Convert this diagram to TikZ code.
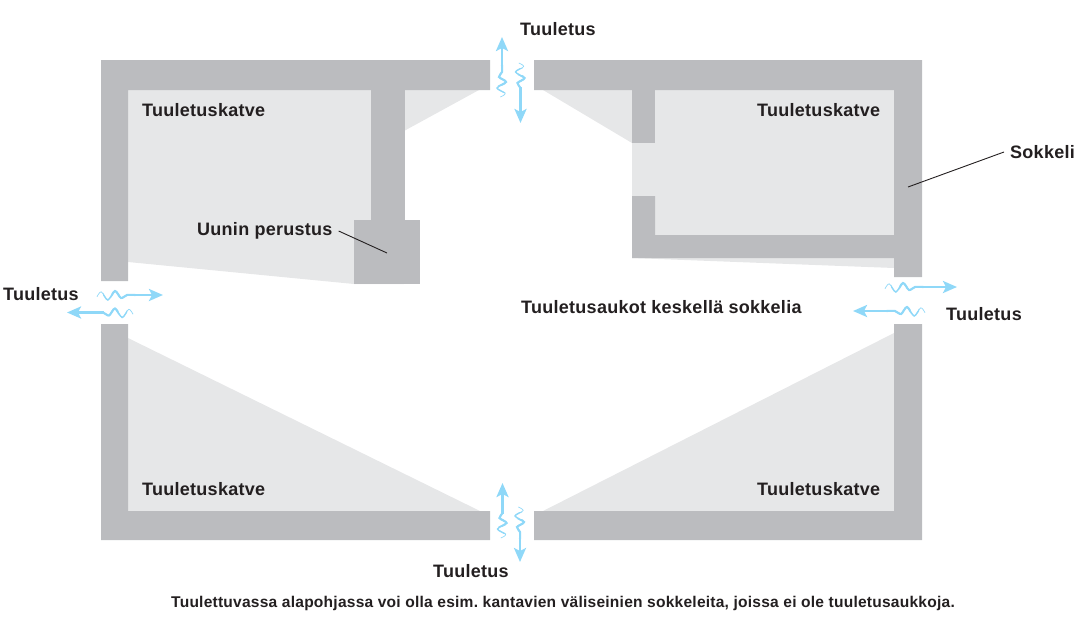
\documentclass[tikz,border=0pt]{standalone}
\usepackage{fontspec}
\setmainfont[LetterSpace=1.5]{Liberation Sans}
\usetikzlibrary{arrows.meta}
\definecolor{sokkeli}{HTML}{BBBCBF}
\definecolor{katve}{HTML}{E6E7E8}
\definecolor{ilma}{HTML}{8FD8F8}
\definecolor{teksti}{HTML}{231F20}
\newcommand{\aalto}{plot[smooth] coordinates {(0,-1.7) (3.5,3.2) (9,-5) (15,4) (20,-3) (25,0) (32,0)}}
\tikzset{
	seina/.style={fill=sokkeli,draw=none},
	varjo/.style={fill=katve,draw=none},
	otsikko/.style={anchor=west,inner sep=0pt,text=teksti,font=\fontsize{18}{20}\bfseries},
	viite/.style={draw=teksti,line width=0.9pt},
	pics/virtaus/.style={code={
		\draw[ilma,line width=0.7pt] \aalto;
		\begin{scope}
			\clip (5,-9) rectangle (40,9);
			\draw[ilma,line width=1.4pt] \aalto;
		\end{scope}
		\begin{scope}
			\clip (12,-9) rectangle (40,9);
			\draw[ilma,line width=2.1pt] \aalto;
		\end{scope}
		\draw[ilma,line width=2.6pt,-{Stealth[length=14pt,width=12pt,inset=3pt]}] (24,0) -- (#1,0);
	}}
}
\begin{document}
\frenchspacing
\begin{tikzpicture}[x=1pt,y=-1pt]
	\useasboundingbox (0,0) rectangle (1078,624);
	% katveet
	\fill[varjo] (128,90) -- (479,90) -- (404,131) -- (404,284) -- (354,284) -- (128,262) -- cycle;
	\fill[varjo] (543,90) -- (632,143) -- (632,196) -- (655,196) -- (655,235) -- (894,235) -- (894,90) -- cycle;
	\fill[varjo] (632,258) -- (894,268) -- (894,258) -- cycle;
	\fill[varjo] (128,338) -- (480,511) -- (128,511) -- cycle;
	\fill[varjo] (543,511) -- (894,333) -- (894,511) -- cycle;
	% sokkelit
	\fill[seina] (101,60) -- (490,60) -- (490,90) -- (128,90) -- (128,281) -- (101,281) -- cycle;
	\fill[seina] (371,90) rectangle (404.5,220);
	\fill[seina] (354,220) rectangle (420,284);
	\fill[seina] (534,60) -- (922,60) -- (922,277) -- (894,277) -- (894,90) -- (534,90) -- cycle;
	\fill[seina] (632,90) rectangle (655,143);
	\fill[seina] (632,196) -- (655,196) -- (655,235) -- (894,235) -- (894,258) -- (632,258) -- cycle;
	\fill[seina] (101,324) -- (128,324) -- (128,511) -- (490,511) -- (490,540) -- (101,540) -- cycle;
	\fill[seina] (534,511) -- (894,511) -- (894,324) -- (922,324) -- (922,540) -- (534,540) -- cycle;
	% tuuletusvirrat
	\pic[rotate=90] at (502,97) {virtaus=60};
	\pic[rotate=-90,yscale=-1] at (520.5,63) {virtaus=60};
	\pic[rotate=90] at (502.5,538) {virtaus=55};
	\pic[rotate=-90,yscale=-1] at (520,507) {virtaus=55};
	\pic[xscale=1.2,yscale=-1] at (97,295) {virtaus=55};
	\pic[rotate=180,xscale=1.2] at (133,312.5) {virtaus=55};
	\pic[xscale=1.2,yscale=-1] at (885,287) {virtaus=60};
	\pic[rotate=180,xscale=1.2] at (925,311) {virtaus=60};
	% tekstit
	\node[otsikko] (katve1) at (142,110) {Tuuletuskatve};
	\node[otsikko] (katve2) at (757,110) {Tuuletuskatve};
	\node[otsikko] (katve3) at (142,489) {Tuuletuskatve};
	\node[otsikko] (katve4) at (757,489) {Tuuletuskatve};
	\node[otsikko] (uuni) at (197,231) {Uunin perustus};
	\node[otsikko] (sokkeli) at (1010,152) {Sokkeli};
	\node[otsikko] (ylos) at (520,29) {Tuuletus};
	\node[otsikko] (vasen) at (3,294) {Tuuletus};
	\node[otsikko] (oikea) at (946,314) {Tuuletus};
	\node[otsikko] (alas) at (433,571) {Tuuletus};
	\node[otsikko] (aukot) at (521,307) {Tuuletusaukot keskellä sokkelia};
	\node[otsikko,font=\fontsize{15.55}{17}\bfseries] (selitys) at (171,603) {Tuulettuvassa alapohjassa voi olla esim. kantavien väliseinien sokkeleita, joissa ei ole tuuletusaukkoja.};
	% viivat
	\coordinate (perustus) at (387,253);
	\coordinate (seinama) at (908,187);
	\draw[viite] (uuni.east) ++(6,0) -- (perustus);
	\draw[viite] (sokkeli.west) ++(-6,0) -- (seinama);
\end{tikzpicture}
\end{document}
